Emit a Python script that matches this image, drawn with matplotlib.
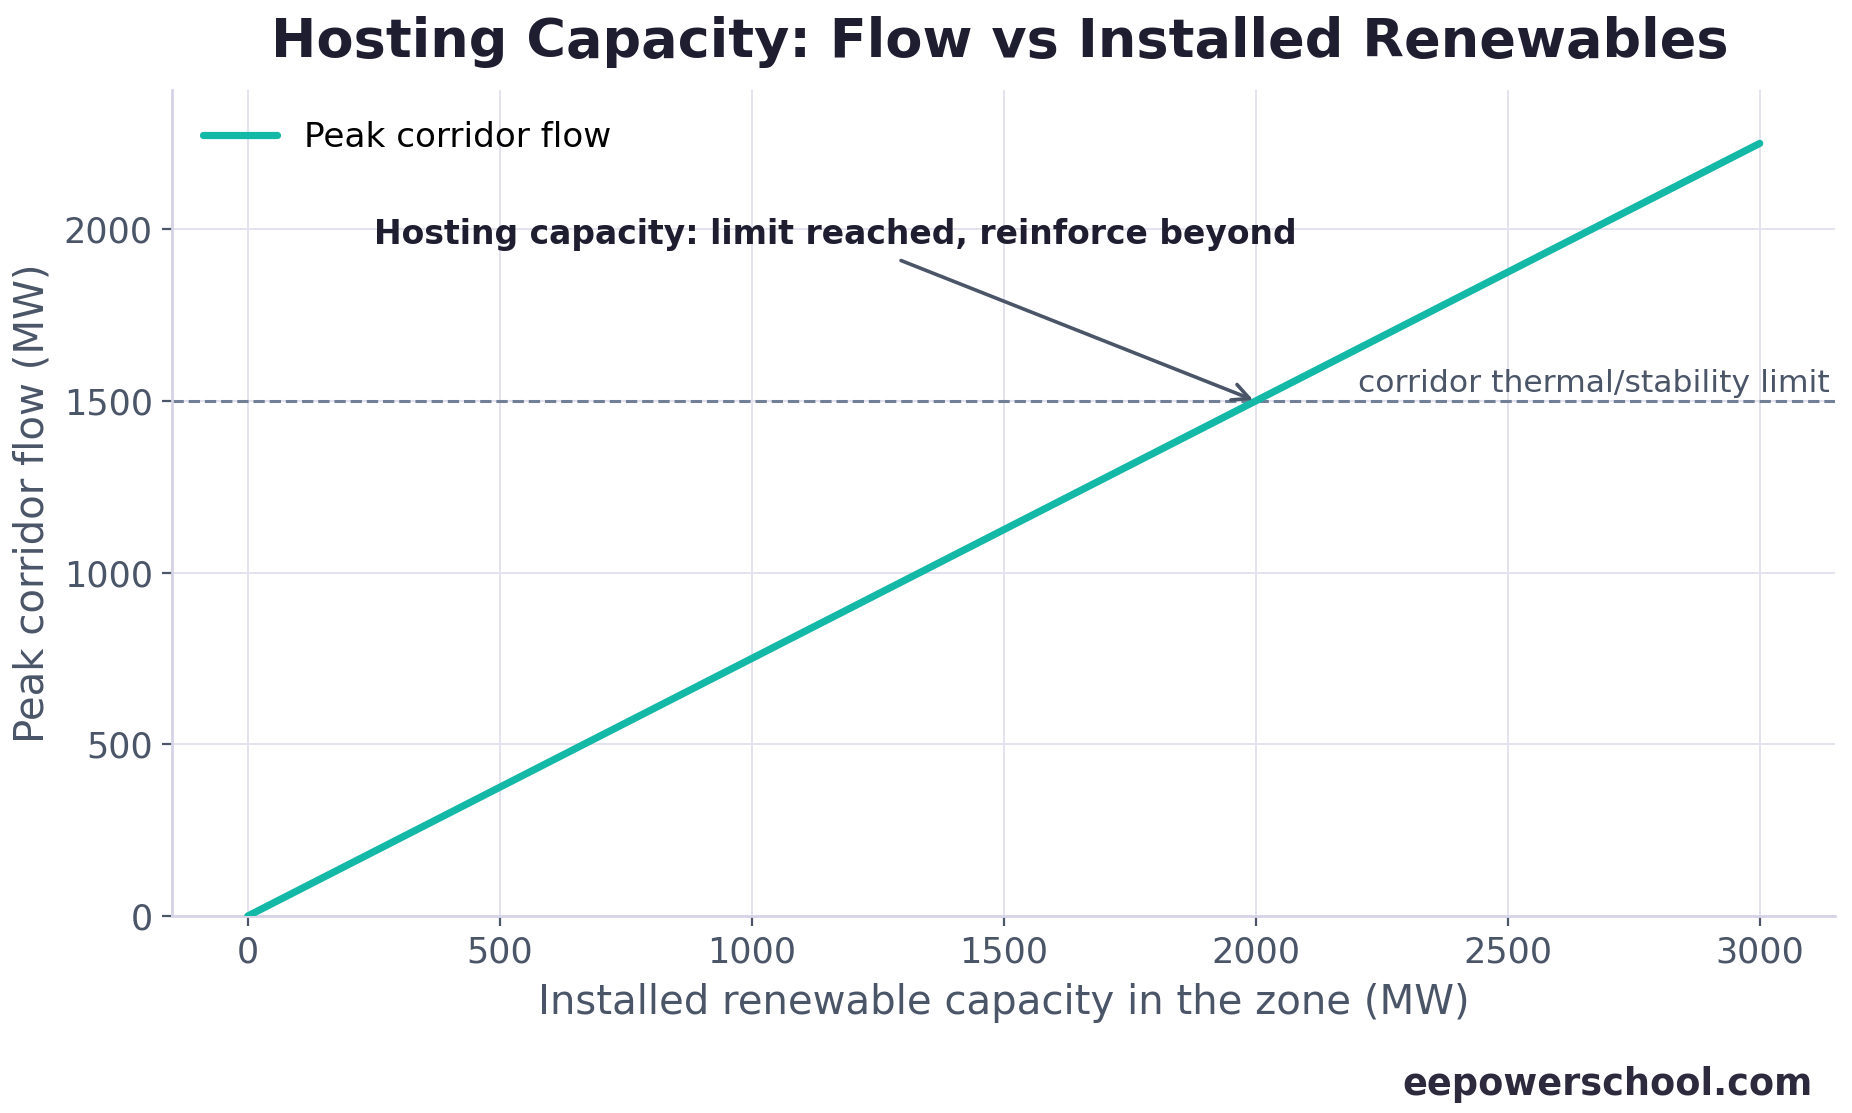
import numpy as np
import matplotlib.pyplot as plt

# installed renewable capacity (MW) vs peak corridor flow (MW)
capacity = [0, 500, 1000, 1500, 2000, 2500, 3000]
flow = [0, 375, 750, 1125, 1500, 1875, 2250]
limit = 1500
hosting_point = (2000, 1500)

x_ticks = [0, 500, 1000, 1500, 2000, 2500, 3000]
y_ticks = [0, 500, 1000, 1500, 2000]

teal = '#14b8a6'
ink = '#1f1d30'
slate = '#4a5568'
grid_col = '#e4e2ef'
spine_col = '#d6d3e6'

plt.rcParams['font.family'] = ['DejaVu Sans']

fig = plt.figure(figsize=(9.26, 5.565), dpi=200)
ax = fig.add_axes([0.093, 0.177, 0.898, 0.742])

ax.plot(capacity, flow, color=teal, linewidth=2.6, label='Peak corridor flow',
        solid_capstyle='round', zorder=3)
ax.axhline(limit, color='#718096', linestyle='--', linewidth=1.1, zorder=2)
ax.text(3138, limit + 8, 'corridor thermal/stability limit', ha='right', va='bottom',
        fontsize=11.3, color=slate)

ax.annotate('Hosting capacity: limit reached, reinforce beyond',
            xy=hosting_point, xytext=(1165, 1985),
            ha='center', va='center', fontsize=11.9, fontweight='bold', color=ink,
            arrowprops=dict(arrowstyle='->', color=slate, lw=1.3,
                            shrinkA=4, shrinkB=1, mutation_scale=15))

ax.set_xlim(-150, 3150)
ax.set_ylim(0, 2405)
ax.set_xticks(x_ticks)
ax.set_yticks(y_ticks)
ax.grid(True, color=grid_col, linewidth=0.7)
ax.set_axisbelow(True)

for side in ['top', 'right']:
    ax.spines[side].set_visible(False)
for side in ['left', 'bottom']:
    ax.spines[side].set_color(spine_col)
    ax.spines[side].set_linewidth(1.0)

ax.tick_params(colors=slate, labelsize=12.6, length=3.5, width=0.8)
ax.set_xlabel('Installed renewable capacity in the zone (MW)', fontsize=14.5,
              color=slate, labelpad=5)
ax.set_ylabel('Peak corridor flow (MW)', fontsize=14.5, color=slate, labelpad=4)

ax.legend(loc='upper left', frameon=False, fontsize=12.35, handlelength=2.15,
          borderaxespad=0.5)

fig.suptitle('Hosting Capacity: Flow vs Installed Renewables', fontsize=19.5,
             fontweight='bold', color=ink, x=0.54, y=0.986)
fig.text(0.979, 0.009, 'eepowerschool.com', ha='right', va='bottom', fontsize=13.2,
         fontweight='bold', color='#2d2a3e')

fig.savefig('out.png', dpi=200)
